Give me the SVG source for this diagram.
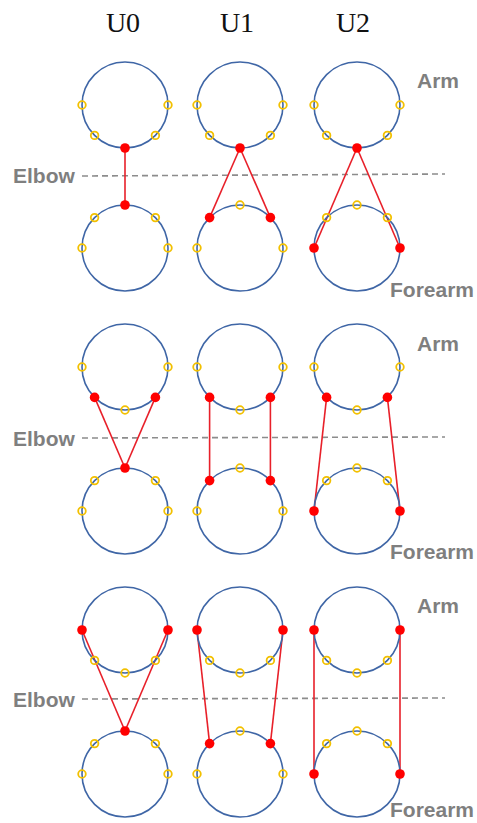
<svg xmlns="http://www.w3.org/2000/svg" width="477" height="823" viewBox="0 0 477 823">
<style>
.bg{fill:#ffffff}
.limb{fill:none;stroke:#3f66a6;stroke-width:1.6}
.y{fill:none;stroke:#f2c000;stroke-width:1.8}
.r{fill:#ff0000;stroke:none}
.link{stroke:#e8202a;stroke-width:1.6;fill:none}
.elbowline{stroke:#8c8c8c;stroke-width:1.6;stroke-dasharray:6 4;fill:none}
.lbl{font-family:"Liberation Sans",Arial,sans-serif;font-weight:bold;font-size:21px;fill:#7f7f7f}
.title{font-family:"Liberation Serif","Times New Roman",serif;font-size:28px;fill:#111111;text-anchor:middle}
</style>
<rect class="bg" x="0" y="0" width="477" height="823"/>

<g id="titles">
<text class="title" x="123" y="32">U0</text>
<text class="title" x="237" y="32">U1</text>
<text class="title" x="353" y="32">U2</text>
</g>

<g id="labels">
<text class="lbl" x="13" y="183">Elbow</text>
<text class="lbl" x="417" y="88">Arm</text>
<text class="lbl" x="390" y="297">Forearm</text>
<text class="lbl" x="13" y="446">Elbow</text>
<text class="lbl" x="417" y="351">Arm</text>
<text class="lbl" x="390" y="559">Forearm</text>
<text class="lbl" x="13" y="707">Elbow</text>
<text class="lbl" x="417" y="613">Arm</text>
<text class="lbl" x="390" y="817">Forearm</text>
</g>

<g id="elbow-lines">
<line class="elbowline" x1="82" y1="176" x2="445" y2="174"/>
<line class="elbowline" x1="82" y1="438" x2="445" y2="437"/>
<line class="elbowline" x1="82" y1="699" x2="445" y2="698"/>
</g>

<g id="connectors">
<line class="link" x1="125" y1="148" x2="125" y2="205"/>
<line class="link" x1="240" y1="148" x2="209.6" y2="217.6"/>
<line class="link" x1="240" y1="148" x2="270.4" y2="217.6"/>
<line class="link" x1="357" y1="148" x2="314" y2="248"/>
<line class="link" x1="357" y1="148" x2="400" y2="248"/>

<line class="link" x1="94.6" y1="397.4" x2="125" y2="468"/>
<line class="link" x1="155.4" y1="397.4" x2="125" y2="468"/>
<line class="link" x1="209.6" y1="397.4" x2="209.6" y2="480.6"/>
<line class="link" x1="270.4" y1="397.4" x2="270.4" y2="480.6"/>
<line class="link" x1="326.6" y1="397.4" x2="314" y2="511"/>
<line class="link" x1="387.4" y1="397.4" x2="400" y2="511"/>

<line class="link" x1="82" y1="630" x2="125" y2="731"/>
<line class="link" x1="168" y1="630" x2="125" y2="731"/>
<line class="link" x1="197" y1="630" x2="209.6" y2="743.6"/>
<line class="link" x1="283" y1="630" x2="270.4" y2="743.6"/>
<line class="link" x1="314" y1="630" x2="314" y2="774"/>
<line class="link" x1="400" y1="630" x2="400" y2="774"/>
</g>

<!-- Row 1 -->
<g id="r1-u0-arm">
<circle class="limb" cx="125" cy="105" r="43"/>
<circle class="y" cx="82" cy="105" r="3.8"/><circle class="y" cx="168" cy="105" r="3.8"/>
<circle class="y" cx="94.6" cy="135.4" r="3.8"/><circle class="y" cx="155.4" cy="135.4" r="3.8"/>
<circle class="r" cx="125" cy="148" r="4.8"/>
</g>
<g id="r1-u0-forearm">
<circle class="limb" cx="125" cy="248" r="43"/>
<circle class="y" cx="94.6" cy="217.6" r="3.8"/><circle class="y" cx="155.4" cy="217.6" r="3.8"/>
<circle class="y" cx="82" cy="248" r="3.8"/><circle class="y" cx="168" cy="248" r="3.8"/>
<circle class="r" cx="125" cy="205" r="4.8"/>
</g>
<g id="r1-u1-arm">
<circle class="limb" cx="240" cy="105" r="43"/>
<circle class="y" cx="197" cy="105" r="3.8"/><circle class="y" cx="283" cy="105" r="3.8"/>
<circle class="y" cx="209.6" cy="135.4" r="3.8"/><circle class="y" cx="270.4" cy="135.4" r="3.8"/>
<circle class="r" cx="240" cy="148" r="4.8"/>
</g>
<g id="r1-u1-forearm">
<circle class="limb" cx="240" cy="248" r="43"/>
<circle class="y" cx="240" cy="205" r="3.8"/>
<circle class="y" cx="197" cy="248" r="3.8"/><circle class="y" cx="283" cy="248" r="3.8"/>
<circle class="r" cx="209.6" cy="217.6" r="4.8"/><circle class="r" cx="270.4" cy="217.6" r="4.8"/>
</g>
<g id="r1-u2-arm">
<circle class="limb" cx="357" cy="105" r="43"/>
<circle class="y" cx="314" cy="105" r="3.8"/><circle class="y" cx="400" cy="105" r="3.8"/>
<circle class="y" cx="326.6" cy="135.4" r="3.8"/><circle class="y" cx="387.4" cy="135.4" r="3.8"/>
<circle class="r" cx="357" cy="148" r="4.8"/>
</g>
<g id="r1-u2-forearm">
<circle class="limb" cx="357" cy="248" r="43"/>
<circle class="y" cx="326.6" cy="217.6" r="3.8"/><circle class="y" cx="357" cy="205" r="3.8"/><circle class="y" cx="387.4" cy="217.6" r="3.8"/>
<circle class="r" cx="314" cy="248" r="4.8"/><circle class="r" cx="400" cy="248" r="4.8"/>
</g>

<!-- Row 2 -->
<g id="r2-u0-arm">
<circle class="limb" cx="125" cy="367" r="43"/>
<circle class="y" cx="82" cy="367" r="3.8"/><circle class="y" cx="168" cy="367" r="3.8"/><circle class="y" cx="125" cy="410" r="3.8"/>
<circle class="r" cx="94.6" cy="397.4" r="4.8"/><circle class="r" cx="155.4" cy="397.4" r="4.8"/>
</g>
<g id="r2-u0-forearm">
<circle class="limb" cx="125" cy="511" r="43"/>
<circle class="y" cx="94.6" cy="480.6" r="3.8"/><circle class="y" cx="155.4" cy="480.6" r="3.8"/>
<circle class="y" cx="82" cy="511" r="3.8"/><circle class="y" cx="168" cy="511" r="3.8"/>
<circle class="r" cx="125" cy="468" r="4.8"/>
</g>
<g id="r2-u1-arm">
<circle class="limb" cx="240" cy="367" r="43"/>
<circle class="y" cx="197" cy="367" r="3.8"/><circle class="y" cx="283" cy="367" r="3.8"/><circle class="y" cx="240" cy="410" r="3.8"/>
<circle class="r" cx="209.6" cy="397.4" r="4.8"/><circle class="r" cx="270.4" cy="397.4" r="4.8"/>
</g>
<g id="r2-u1-forearm">
<circle class="limb" cx="240" cy="511" r="43"/>
<circle class="y" cx="240" cy="468" r="3.8"/>
<circle class="y" cx="197" cy="511" r="3.8"/><circle class="y" cx="283" cy="511" r="3.8"/>
<circle class="r" cx="209.6" cy="480.6" r="4.8"/><circle class="r" cx="270.4" cy="480.6" r="4.8"/>
</g>
<g id="r2-u2-arm">
<circle class="limb" cx="357" cy="367" r="43"/>
<circle class="y" cx="314" cy="367" r="3.8"/><circle class="y" cx="400" cy="367" r="3.8"/><circle class="y" cx="357" cy="410" r="3.8"/>
<circle class="r" cx="326.6" cy="397.4" r="4.8"/><circle class="r" cx="387.4" cy="397.4" r="4.8"/>
</g>
<g id="r2-u2-forearm">
<circle class="limb" cx="357" cy="511" r="43"/>
<circle class="y" cx="326.6" cy="480.6" r="3.8"/><circle class="y" cx="357" cy="468" r="3.8"/><circle class="y" cx="387.4" cy="480.6" r="3.8"/>
<circle class="r" cx="314" cy="511" r="4.8"/><circle class="r" cx="400" cy="511" r="4.8"/>
</g>

<!-- Row 3 -->
<g id="r3-u0-arm">
<circle class="limb" cx="125" cy="630" r="43"/>
<circle class="y" cx="94.6" cy="660.4" r="3.8"/><circle class="y" cx="125" cy="673" r="3.8"/><circle class="y" cx="155.4" cy="660.4" r="3.8"/>
<circle class="r" cx="82" cy="630" r="4.8"/><circle class="r" cx="168" cy="630" r="4.8"/>
</g>
<g id="r3-u0-forearm">
<circle class="limb" cx="125" cy="774" r="43"/>
<circle class="y" cx="94.6" cy="743.6" r="3.8"/><circle class="y" cx="155.4" cy="743.6" r="3.8"/>
<circle class="y" cx="82" cy="774" r="3.8"/><circle class="y" cx="168" cy="774" r="3.8"/>
<circle class="r" cx="125" cy="731" r="4.8"/>
</g>
<g id="r3-u1-arm">
<circle class="limb" cx="240" cy="630" r="43"/>
<circle class="y" cx="209.6" cy="660.4" r="3.8"/><circle class="y" cx="240" cy="673" r="3.8"/><circle class="y" cx="270.4" cy="660.4" r="3.8"/>
<circle class="r" cx="197" cy="630" r="4.8"/><circle class="r" cx="283" cy="630" r="4.8"/>
</g>
<g id="r3-u1-forearm">
<circle class="limb" cx="240" cy="774" r="43"/>
<circle class="y" cx="240" cy="731" r="3.8"/>
<circle class="y" cx="197" cy="774" r="3.8"/><circle class="y" cx="283" cy="774" r="3.8"/>
<circle class="r" cx="209.6" cy="743.6" r="4.8"/><circle class="r" cx="270.4" cy="743.6" r="4.8"/>
</g>
<g id="r3-u2-arm">
<circle class="limb" cx="357" cy="630" r="43"/>
<circle class="y" cx="326.6" cy="660.4" r="3.8"/><circle class="y" cx="357" cy="673" r="3.8"/><circle class="y" cx="387.4" cy="660.4" r="3.8"/>
<circle class="r" cx="314" cy="630" r="4.8"/><circle class="r" cx="400" cy="630" r="4.8"/>
</g>
<g id="r3-u2-forearm">
<circle class="limb" cx="357" cy="774" r="43"/>
<circle class="y" cx="326.6" cy="743.6" r="3.8"/><circle class="y" cx="357" cy="731" r="3.8"/><circle class="y" cx="387.4" cy="743.6" r="3.8"/>
<circle class="r" cx="314" cy="774" r="4.8"/><circle class="r" cx="400" cy="774" r="4.8"/>
</g>
</svg>
